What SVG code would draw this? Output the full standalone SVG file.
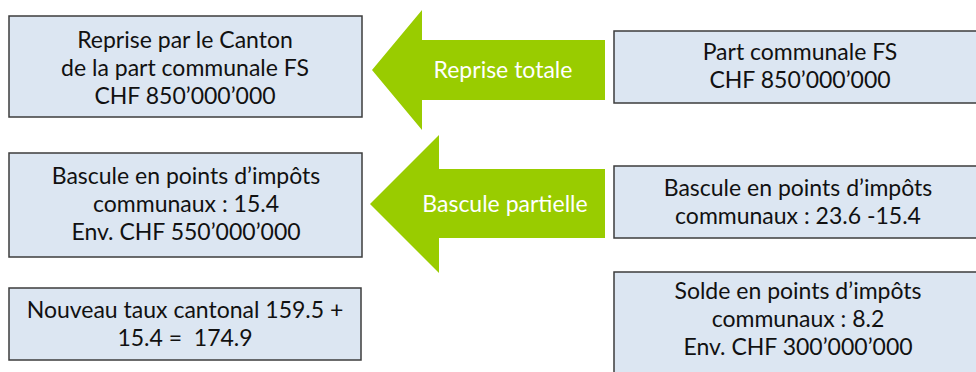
<svg xmlns="http://www.w3.org/2000/svg" width="976" height="372" viewBox="0 0 976 372">
<style>
.box{fill:#dce6f2;stroke:#3c3c3c;stroke-width:1.5}
.t{font-family:Lato,"Liberation Sans",sans-serif;font-size:23px;fill:#111111;text-anchor:middle;white-space:pre}
.w{font-family:Lato,"Liberation Sans",sans-serif;font-size:23px;fill:#ffffff;text-anchor:middle}
.arrow{fill:#99cc00}
</style>
<rect width="976" height="372" fill="#ffffff"/>
<g id="connectors">
<g id="arrow-reprise">
<polygon class="arrow" points="372,70 422,10 422,40 605,40 605,100 422,100 422,130"/>
<text class="w" x="503" y="78">Reprise totale</text>
</g>
<g id="arrow-bascule">
<polygon class="arrow" points="370,204 439,135 439,169 605,169 605,238 439,238 439,273"/>
<text class="w" x="505" y="212">Bascule partielle</text>
</g>
</g>
<g id="node-reprise-canton">
<rect class="box" x="9" y="16" width="353" height="101"/>
<text class="t" x="185" y="48">Reprise par le Canton</text>
<text class="t" x="185" y="76">de la part communale FS</text>
<text class="t" x="185" y="104">CHF 850’000’000</text>
</g>
<g id="node-part-communale">
<rect class="box" x="614" y="31" width="372" height="72"/>
<text class="t" x="800" y="60">Part communale FS</text>
<text class="t" x="800" y="88">CHF 850’000’000</text>
</g>
<g id="node-bascule-gauche">
<rect class="box" x="9" y="153" width="353" height="104"/>
<text class="t" x="186" y="184">Bascule en points d’impôts</text>
<text class="t" x="186" y="212">communaux : 15.4</text>
<text class="t" x="186" y="240">Env. CHF 550’000’000</text>
</g>
<g id="node-bascule-droite">
<rect class="box" x="614" y="166" width="372" height="72"/>
<text class="t" x="798" y="196">Bascule en points d’impôts</text>
<text class="t" x="798" y="224">communaux : 23.6 -15.4</text>
</g>
<g id="node-nouveau-taux">
<rect class="box" x="9" y="288" width="352" height="72"/>
<text class="t" x="185" y="318">Nouveau taux cantonal 159.5 +</text>
<text class="t" x="185" y="346" xml:space="preserve">15.4 =  174.9</text>
</g>
<g id="node-solde">
<rect class="box" x="614" y="272" width="372" height="110"/>
<text class="t" x="798" y="299">Solde en points d’impôts</text>
<text class="t" x="798" y="327">communaux : 8.2</text>
<text class="t" x="798" y="355">Env. CHF 300’000’000</text>
</g>
</svg>
